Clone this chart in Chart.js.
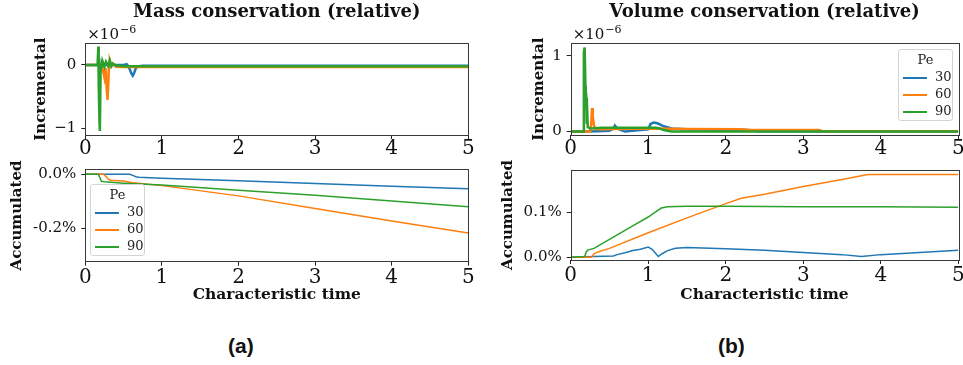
<!DOCTYPE html>
<html>
<head>
<meta charset="utf-8">
<script src="https://cdn.jsdelivr.net/npm/chart.js@4.4.0/dist/chart.umd.min.js"></script>
<style>
  html, body { margin: 0; padding: 0; background: #fff; }
  #wrap { position: relative; width: 963px; height: 365px; overflow: hidden; }
  #wrap canvas { position: absolute; }
  .legend { position: absolute; width: 53px; border: 1px solid #d4d4d4; border-radius: 3px;
            background: rgba(255,255,255,0.85); font: 13px "DejaVu Serif", serif; color: #222;
            padding: 1px 0; box-sizing: content-box; }
  .legend .ttl { text-align: center; line-height: 17px; height: 17px; }
  .legend .row { line-height: 17px; height: 17px; white-space: nowrap; padding-left: 4px; }
  .legend .ln { display: inline-block; width: 24px; height: 2px; vertical-align: middle; margin-right: 8px; }
  .tag { position: absolute; font: bold 21px "Liberation Sans", Arial, sans-serif; color: #111; }
</style>
</head>
<body>
<div id="wrap">
  <canvas id="massInc" width="480" height="160" style="left:0;top:0"></canvas>
  <canvas id="massAcc" width="480" height="150" style="left:0;top:160px"></canvas>
  <canvas id="volInc" width="483" height="160" style="left:480px;top:0"></canvas>
  <canvas id="volAcc" width="483" height="150" style="left:480px;top:160px"></canvas>
  <div class="legend" id="legVol" style="left:898px;top:49px"></div>
  <div class="legend" id="legMass" style="left:90px;top:184px"></div>
  <div class="tag" style="left:228px;top:334px">(a)</div>
  <div class="tag" style="left:718px;top:334px">(b)</div>
</div>
<script>
// Pe series
const peNames = ['30', '60', '90'];
const peColors = ['#1f77b4', '#ff7f0e', '#2ca02c'];

// shared x ticks (characteristic time)
const timeTicks = [0, 1, 2, 3, 4, 5];

// mass conservation, incremental (x1e-6)
const massIncT30 = [0, 0.5, 0.54, 0.56, 0.58, 0.6, 0.62, 0.64, 0.66, 0.7, 0.75, 5];
const massInc30  = [0, 0, 0.01, -0.02, -0.07, -0.13, -0.17, -0.12, -0.05, -0.02, -0.015, -0.015];
const massIncT60 = [0, 0.21, 0.23, 0.25, 0.265, 0.28, 0.29, 0.30, 0.31, 0.32, 0.34, 0.36, 0.4, 0.5, 5];
const massInc60  = [0, 0, -0.08, -0.2, -0.05, -0.4, -0.55, -0.3, 0.02, 0.06, -0.02, 0.02, -0.03, -0.035, -0.035];
const massIncT90 = [0, 0.16, 0.17, 0.175, 0.185, 0.19, 0.2, 0.21, 0.22, 0.23, 0.25, 0.27, 0.3, 0.32, 0.34, 0.36, 0.4, 0.5, 5];
const massInc90  = [0, 0, 0.29, -0.3, -0.9, -1.04, -0.1, 0.02, -0.02, 0.04, -0.03, 0.05, -0.02, 0.07, -0.02, 0.02, -0.01, -0.022, -0.022];
const massIncTicks = [-1, 0];

// mass conservation, accumulated (%)
const massAccT30 = [0, 0.58, 0.62, 0.66, 0.7, 1, 2, 3, 4, 5];
const massAcc30  = [0, 0, -0.004, -0.009, -0.011, -0.015, -0.024, -0.034, -0.044, -0.054];
const massAccT60 = [0, 0.24, 0.27, 0.3, 0.33, 0.5, 0.6, 1, 2, 3, 4, 5];
const massAcc60  = [0, 0, -0.008, -0.018, -0.022, -0.025, -0.03, -0.042, -0.08, -0.127, -0.173, -0.218];
const massAccT90 = [0, 0.17, 0.19, 0.21, 0.25, 0.5, 1, 2, 3, 4, 5];
const massAcc90  = [0, 0, -0.012, -0.026, -0.028, -0.033, -0.04, -0.059, -0.078, -0.099, -0.12];
const massAccTicks = [-0.2, 0];

// volume conservation, incremental (x1e-6)
const volIncT30 = [0, 0.35, 0.5, 0.55, 0.57, 0.6, 0.65, 0.7, 0.9, 1.0, 1.03, 1.07, 1.12, 1.2, 1.3, 1.5, 2.0, 2.3, 2.4, 5];
const volInc30  = [0, 0.005, 0.01, 0.04, 0.08, 0.04, 0.02, 0.0, 0.02, 0.03, 0.1, 0.12, 0.11, 0.07, 0.04, 0.03, 0.025, 0.02, 0.005, 0.005];
const volIncT60 = [0, 0.25, 0.265, 0.275, 0.285, 0.3, 0.32, 0.4, 1.0, 1.5, 2.2, 2.3, 3.2, 3.25, 5];
const volInc60  = [0, 0, 0.1, 0.31, 0.2, 0.08, 0.03, 0.03, 0.04, 0.035, 0.03, 0.02, 0.02, 0.005, 0.005];
const volIncT90 = [0, 0.16, 0.17, 0.18, 0.19, 0.195, 0.2, 0.205, 0.21, 0.22, 0.25, 0.4, 0.8, 1.1, 1.15, 1.2, 1.25, 1.3, 2, 5];
const volInc90  = [0, 0, 1.05, 1.11, 0.6, 0.44, 0.45, 0.1, 0.44, 0.06, 0.04, 0.05, 0.05, 0.05, 0.04, 0.02, 0.01, 0.0, 0.0, 0.0];
const volIncTicks = [0, 1];

// volume conservation, accumulated (%)
const volAccT30 = [0, 0.3, 0.55, 0.6, 0.7, 0.8, 0.9, 1.0, 1.05, 1.1, 1.13, 1.18, 1.25, 1.35, 1.5, 2, 2.5, 3, 3.5, 3.75, 4, 4.5, 5];
const volAcc30  = [0, 0.002, 0.003, 0.006, 0.01, 0.015, 0.018, 0.023, 0.018, 0.008, 0.002, 0.008, 0.015, 0.02, 0.022, 0.019, 0.016, 0.011, 0.006, 0.002, 0.006, 0.011, 0.016];
const volAccT60 = [0, 0.27, 0.3, 0.35, 0.5, 1, 1.5, 2, 2.2, 2.5, 3, 3.5, 3.8, 3.85, 4, 5];
const volAcc60  = [0, 0, 0.008, 0.012, 0.02, 0.055, 0.088, 0.12, 0.132, 0.141, 0.158, 0.174, 0.184, 0.185, 0.185, 0.185];
const volAccT90 = [0, 0.18, 0.2, 0.22, 0.3, 0.4, 0.6, 0.8, 1.0, 1.1, 1.17, 1.25, 1.5, 2, 3, 4, 5];
const volAcc90  = [0, 0.002, 0.012, 0.016, 0.02, 0.03, 0.05, 0.07, 0.09, 0.102, 0.11, 0.113, 0.114, 0.114, 0.113, 0.113, 0.112];
const volAccTicks = [0, 0.1];

const SERIF = '"DejaVu Serif", serif';

function pts(ts, vs) {
  return ts.map((t, i) => ({ x: t, y: vs[i] }));
}

// later series on top, as in matplotlib
function sets(pairs, width) {
  return pairs.map((p, i) => ({
    label: peNames[i],
    data: pts(p[0], p[1]),
    borderColor: peColors[i],
    borderWidth: width,
    pointRadius: 0,
    tension: 0,
    fill: false,
    order: pairs.length - 1 - i
  }));
}

// box around the plot + matplotlib style offset text
const framePlugin = {
  id: 'frame',
  afterDraw(chart, args, opts) {
    const { ctx, chartArea: a } = chart;
    ctx.save();
    ctx.strokeStyle = '#3a3a3a';
    ctx.lineWidth = 1;
    ctx.strokeRect(Math.round(a.left) + 0.5, Math.round(a.top) + 0.5,
                   Math.round(a.right - a.left), Math.round(a.bottom - a.top));
    if (opts.offset) {
      ctx.fillStyle = '#111';
      ctx.textBaseline = 'alphabetic';
      ctx.font = '15px ' + SERIF;
      const x0 = a.left + 2, y0 = a.top - 4;
      ctx.fillText('\u00d710', x0, y0);
      const w = ctx.measureText('\u00d710').width;
      ctx.font = '11px ' + SERIF;
      ctx.fillText('\u22126', x0 + w + 1, y0 - 6);
    }
    ctx.restore();
  }
};

function panel(id, o) {
  const titleOpt = o.title
    ? { display: true, text: o.title, fullSize: false, color: '#111',
        font: { family: SERIF, size: 18, weight: 'bold' }, padding: { top: 2, bottom: o.top - 23.6 } }
    : { display: false };
  new Chart(document.getElementById(id), {
    type: 'line',
    data: { datasets: o.datasets },
    plugins: [framePlugin],
    options: {
      responsive: false,
      animation: false,
      events: [],
      layout: { padding: { left: 0, right: o.right, top: o.title ? 0 : o.top, bottom: 0 } },
      plugins: {
        legend: { display: false },
        tooltip: { enabled: false },
        title: titleOpt,
        frame: { offset: o.offset }
      },
      scales: {
        x: {
          type: 'linear', min: 0, max: 5,
          afterBuildTicks: s => { s.ticks = timeTicks.map(v => ({ value: v })); },
          afterFit: s => { s.height = o.xh; s.paddingLeft = 0; s.paddingRight = 0; },
          ticks: { color: '#111', padding: o.xpad, maxRotation: 0, autoSkip: false,
                   font: { family: SERIF, size: 20 }, callback: v => String(v) },
          grid: { drawOnChartArea: false, tickLength: 4, tickColor: '#222' },
          border: { display: false },
          title: o.xtitle
            ? { display: true, text: o.xtitle, color: '#111',
                font: { family: SERIF, size: 15.5, weight: 'bold' }, padding: { top: 0, bottom: o.xtpad } }
            : { display: false }
        },
        y: {
          type: 'linear', min: o.ymin, max: o.ymax,
          afterBuildTicks: s => { s.ticks = o.yticks.map(v => ({ value: v })); },
          afterFit: s => { s.width = o.left; s.paddingTop = 0; s.paddingBottom = 0; },
          ticks: { color: '#111', padding: 5, font: { family: SERIF, size: 15 }, callback: o.fmt },
          grid: { drawOnChartArea: false, tickLength: 4, tickColor: '#222' },
          border: { display: false },
          title: { display: true, text: o.ytitle, color: '#111',
                   font: { family: SERIF, size: 15, weight: 'bold' }, padding: { top: o.ytx - 9, bottom: 0 } }
        }
      }
    }
  });
}

const incFmt = v => (v < 0 ? '\u2212' + Math.abs(v) : String(v));
const pctFmt = v => v.toFixed(1) + '%';

panel('massInc', {
  title: 'Mass conservation (relative)', top: 43.3, right: 11.7, left: 85.3, xh: 25, xpad: -2,
  ymin: -1.105, ymax: 0.34, yticks: massIncTicks, fmt: incFmt, ytitle: 'Incremental', ytx: 41,
  offset: true,
  datasets: sets([[massIncT30, massInc30], [massIncT60, massInc60], [massIncT90, massInc90]], 2.5)
});

panel('massAcc', {
  top: 9.3, right: 11.7, left: 85.3, xh: 48.3, xpad: 0, xtitle: 'Characteristic time', xtpad: 6,
  ymin: -0.324, ymax: 0.0185, yticks: massAccTicks, fmt: pctFmt, ytitle: 'Accumulated', ytx: 17,
  datasets: sets([[massAccT30, massAcc30], [massAccT60, massAcc60], [massAccT90, massAcc90]], 1.5)
});

panel('volInc', {
  title: 'Volume conservation (relative)', top: 43.3, right: 4.7, left: 90.7, xh: 25, xpad: -2,
  ymin: -0.045, ymax: 1.165, yticks: volIncTicks, fmt: incFmt, ytitle: 'Incremental', ytx: 59,
  offset: true,
  datasets: sets([[volIncT30, volInc30], [volIncT60, volInc60], [volIncT90, volInc90]], 2.5)
});

panel('volAcc', {
  top: 10, right: 4.7, left: 90.7, xh: 50, xpad: 0, xtitle: 'Characteristic time', xtpad: 6,
  ymin: -0.006, ymax: 0.195, yticks: volAccTicks, fmt: pctFmt, ytitle: 'Accumulated', ytx: 28,
  datasets: sets([[volAccT30, volAcc30], [volAccT60, volAcc60], [volAccT90, volAcc90]], 1.5)
});

// legends (Pe)
function legend(id) {
  const el = document.getElementById(id);
  let html = '<div class="ttl">Pe</div>';
  peNames.forEach((n, i) => {
    html += '<div class="row"><span class="ln" style="background:' + peColors[i] + '"></span>' + n + '</div>';
  });
  el.innerHTML = html;
}
legend('legVol');
legend('legMass');
</script>
</body>
</html>
